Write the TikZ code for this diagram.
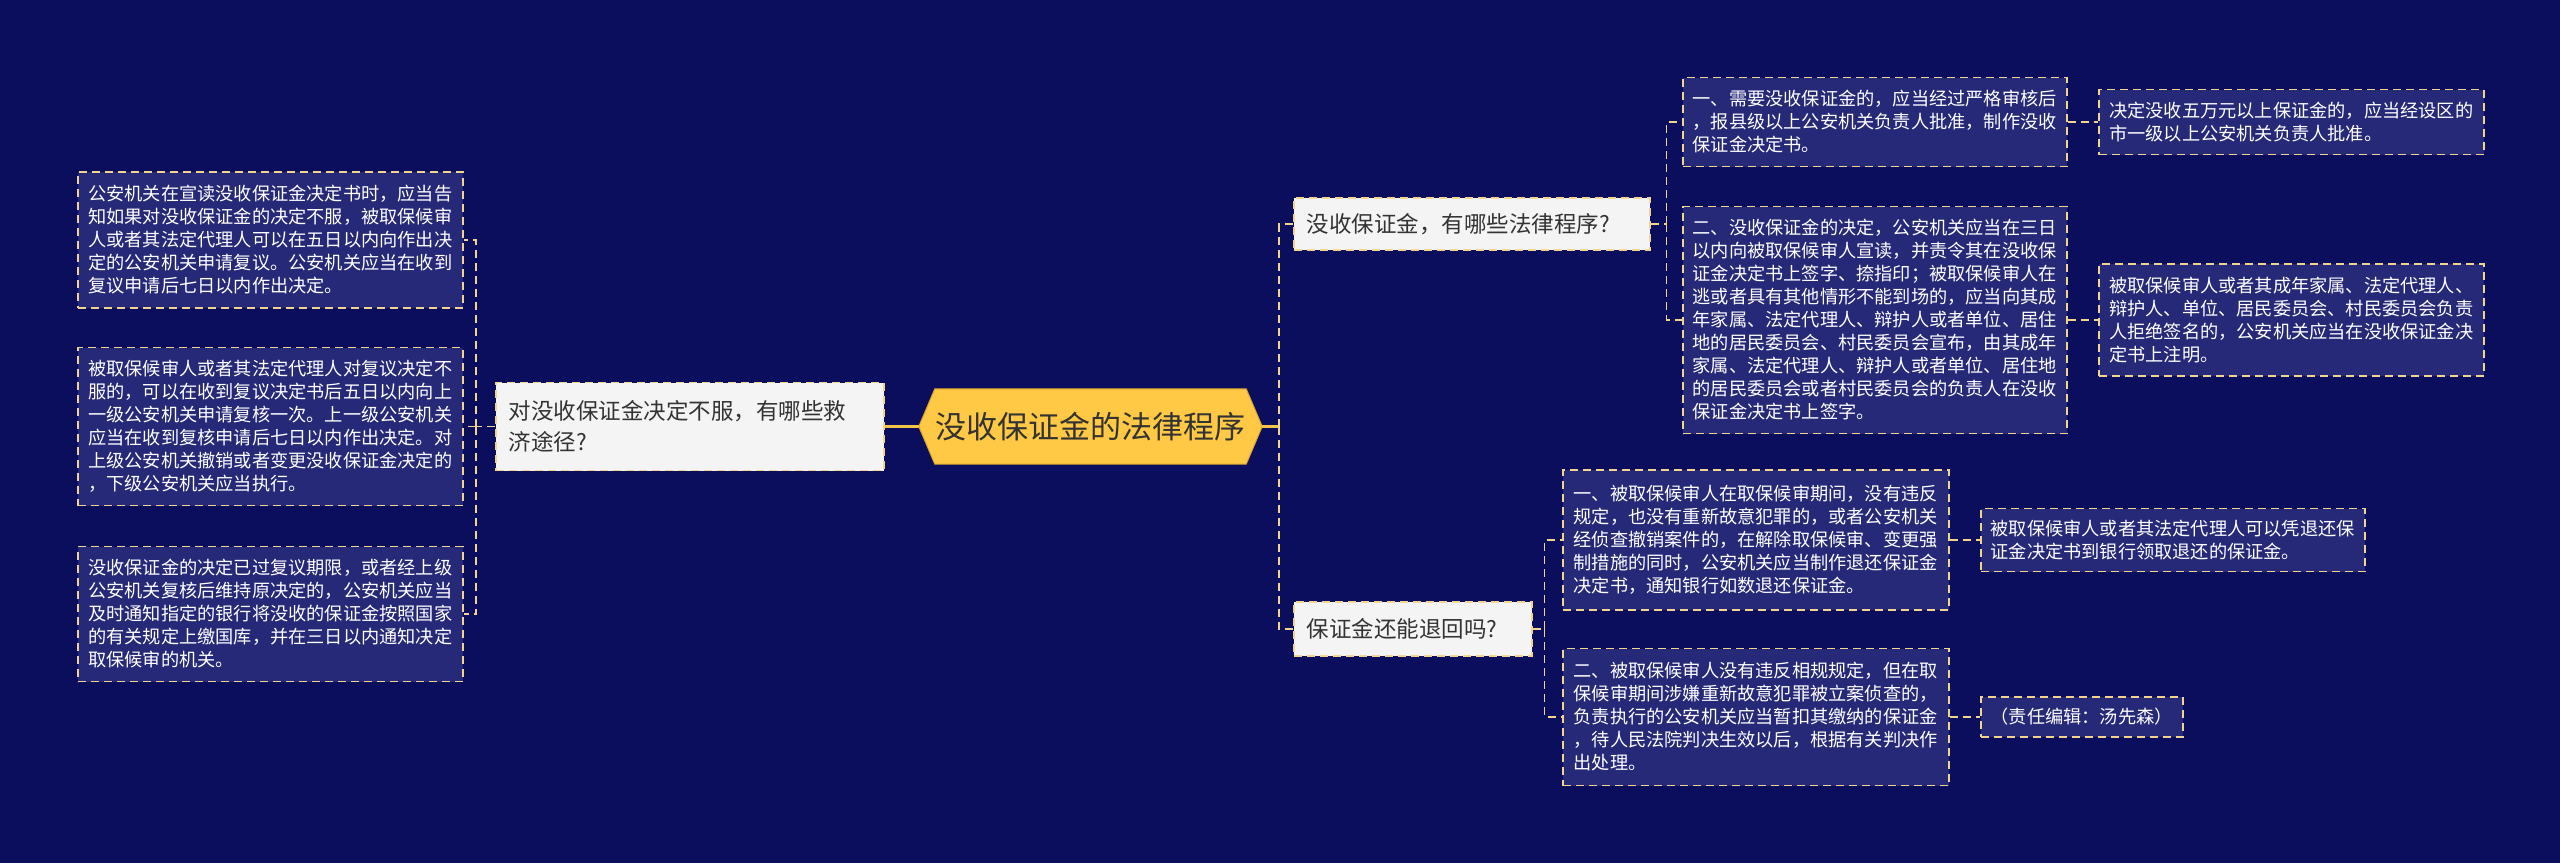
\documentclass[tikz,border=0pt]{standalone}
\usepackage{fontspec}
\setmainfont{Noto Sans CJK SC}
\definecolor{bgc}{HTML}{0A0E5C}
\definecolor{leaffill}{HTML}{262878}
\definecolor{bord}{HTML}{F2D48E}
\definecolor{lonefill}{HTML}{F4F4F4}
\definecolor{rootfill}{HTML}{FFC945}
\definecolor{rootedge}{HTML}{D9A330}
\definecolor{goldline}{HTML}{F2C54A}
\definecolor{darktext}{HTML}{333333}
\pgfdeclarelayer{back}
\pgfdeclarelayer{mid}
\pgfsetlayers{back,mid,main}
\begin{document}
\begin{tikzpicture}[x=1pt,y=-1pt,
  leaf/.style={draw=bord, fill=leaffill, dash pattern=on 8pt off 5pt, line width=1.5pt,
    text=white, font=\fontsize{18.2}{23}\selectfont, align=left, anchor=west,
    inner xsep=10pt, inner ysep=0pt},
  lone/.style={draw=bord, fill=lonefill, dash pattern=on 8pt off 5pt, line width=1.5pt,
    text=darktext, font=\fontsize{22.5}{30.5}\selectfont, align=left, anchor=west,
    inner xsep=13pt, inner ysep=0pt},
  rootnode/.style={text=darktext, font=\fontsize{31}{36}\selectfont, inner sep=0pt},
  conn/.style={draw=bord, dash pattern=on 8pt off 5pt, line width=1.5pt},
  rootline/.style={draw=goldline, line width=3pt}
]
\begin{pgfonlayer}{back}
\fill[bgc] (0,0) rectangle (2560,863);
\end{pgfonlayer}
\useasboundingbox (0,0) rectangle (2560,863);

% root
\node[rootnode, minimum width=343pt, minimum height=75pt] (root) at (1090.5,426.5) {没收保证金的法律程序};
\begin{pgfonlayer}{mid}
\filldraw[fill=rootfill, draw=rootedge, line width=1pt] (root.west) -- ([xshift=16pt]root.north west) -- ([xshift=-16pt]root.north east) -- (root.east) -- ([xshift=-16pt]root.south east) -- ([xshift=16pt]root.south west) -- cycle;
\end{pgfonlayer}

% left branch
\node[lone, text width=362pt, minimum height=88pt] (l1) at (495,426.5) {对没收保证金决定不服，有哪些救\\济途径?};
\node[leaf, minimum width=385pt, minimum height=136pt] (la) at (77,240) {公安机关在宣读没收保证金决定书时，应当告\\知如果对没收保证金的决定不服，被取保候审\\人或者其法定代理人可以在五日以内向作出决\\定的公安机关申请复议。公安机关应当在收到\\复议申请后七日以内作出决定。};
\node[leaf, minimum width=385pt, minimum height=158pt] (lb) at (77,426.5) {被取保候审人或者其法定代理人对复议决定不\\服的，可以在收到复议决定书后五日以内向上\\一级公安机关申请复核一次。上一级公安机关\\应当在收到复核申请后七日以内作出决定。对\\上级公安机关撤销或者变更没收保证金决定的\\，下级公安机关应当执行。};
\node[leaf, minimum width=385pt, minimum height=135pt] (lc) at (77,614) {没收保证金的决定已过复议期限，或者经上级\\公安机关复核后维持原决定的，公安机关应当\\及时通知指定的银行将没收的保证金按照国家\\的有关规定上缴国库，并在三日以内通知决定\\取保候审的机关。};

% right level 1
\node[lone, text width=330pt, minimum height=52pt] (r1) at (1293,224) {没收保证金，有哪些法律程序?};
\node[lone, text width=212pt, minimum height=54pt] (r2) at (1293,629) {保证金还能退回吗?};

% right top level 2
\node[leaf, minimum width=383pt, minimum height=89pt] (t1) at (1682,122) {一、需要没收保证金的，应当经过严格审核后\\，报县级以上公安机关负责人批准，制作没收\\保证金决定书。};
\node[leaf, minimum width=383pt, minimum height=227pt] (t2) at (1682,320) {二、没收保证金的决定，公安机关应当在三日\\以内向被取保候审人宣读，并责令其在没收保\\证金决定书上签字、捺指印；被取保候审人在\\逃或者具有其他情形不能到场的，应当向其成\\年家属、法定代理人、辩护人或者单位、居住\\地的居民委员会、村民委员会宣布，由其成年\\家属、法定代理人、辩护人或者单位、居住地\\的居民委员会或者村民委员会的负责人在没收\\保证金决定书上签字。};
\node[leaf, minimum width=385pt, minimum height=65pt] (u1) at (2098,122) {决定没收五万元以上保证金的，应当经设区的\\市一级以上公安机关负责人批准。};
\node[leaf, minimum width=385pt, minimum height=112pt] (u2) at (2098,320) {被取保候审人或者其成年家属、法定代理人、\\辩护人、单位、居民委员会、村民委员会负责\\人拒绝签名的，公安机关应当在没收保证金决\\定书上注明。};

% right bottom level 2
\node[leaf, minimum width=386pt, minimum height=140pt] (b1) at (1562,540) {一、被取保候审人在取保候审期间，没有违反\\规定，也没有重新故意犯罪的，或者公安机关\\经侦查撤销案件的，在解除取保候审、变更强\\制措施的同时，公安机关应当制作退还保证金\\决定书，通知银行如数退还保证金。};
\node[leaf, minimum width=386pt, minimum height=137pt] (b2) at (1562,717) {二、被取保候审人没有违反相规规定，但在取\\保候审期间涉嫌重新故意犯罪被立案侦查的，\\负责执行的公安机关应当暂扣其缴纳的保证金\\，待人民法院判决生效以后，根据有关判决作\\出处理。};
\node[leaf, minimum width=384pt, minimum height=63pt] (c1) at (1980,540) {被取保候审人或者其法定代理人可以凭退还保\\证金决定书到银行领取退还的保证金。};
\node[leaf, minimum width=201pt, minimum height=40pt] (c2) at (1980,717) {（责任编辑：汤先森）};

% connectors
\draw[rootline] (root.west) -- (l1.east);
\draw[conn] (l1.west) -- ++(-19,0) coordinate (jL);
\draw[conn] (jL) |- (la.east);
\draw[conn] (jL) |- (lb.east);
\draw[conn] (jL) |- (lc.east);

\draw[rootline] (root.east) -- ++(17,0) coordinate (jR);
\draw[conn] (jR) |- (r1.west);
\draw[conn] (jR) |- (r2.west);

\draw[conn] (r1.east) -- ++(16,0) coordinate (jT);
\draw[conn] (jT) |- (t1.west);
\draw[conn] (jT) |- (t2.west);
\draw[conn] (t1.east) -- (u1.west);
\draw[conn] (t2.east) -- (u2.west);

\draw[conn] (r2.east) -- ++(12,0) coordinate (jB);
\draw[conn] (jB) |- (b1.west);
\draw[conn] (jB) |- (b2.west);
\draw[conn] (b1.east) -- (c1.west);
\draw[conn] (b2.east) -- (c2.west);
\end{tikzpicture}
\end{document}
